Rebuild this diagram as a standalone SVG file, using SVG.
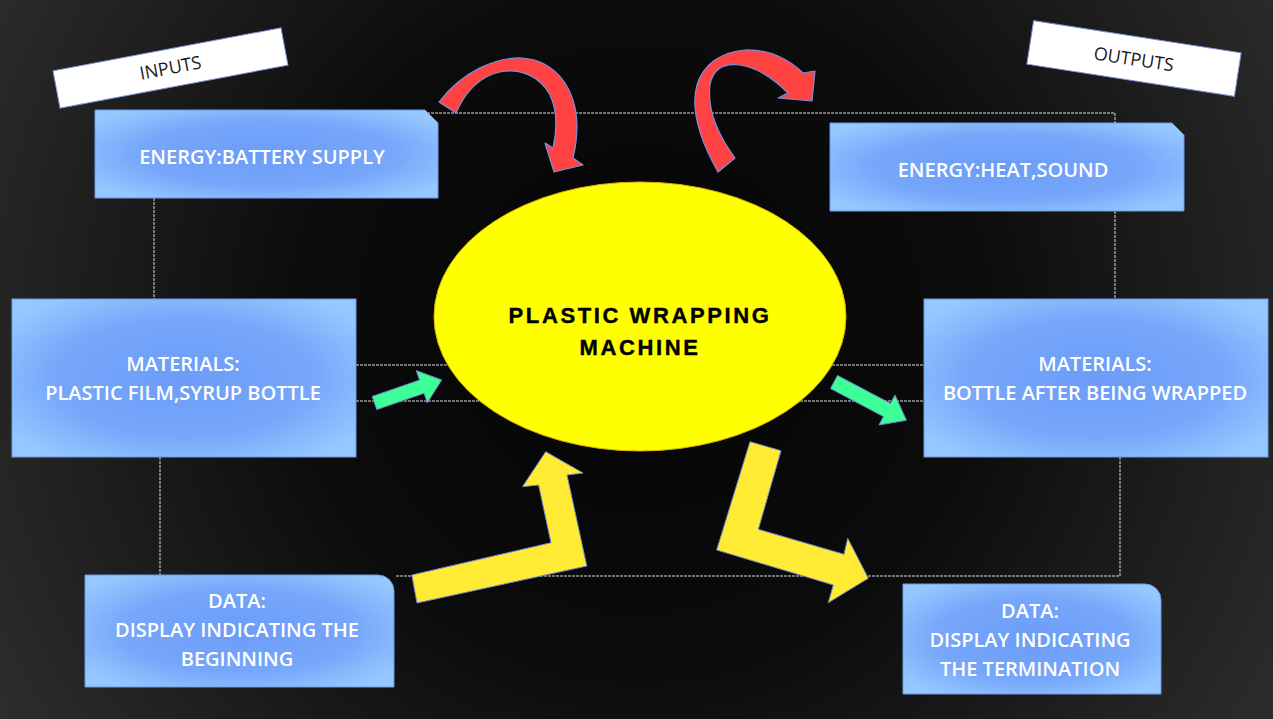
<svg xmlns="http://www.w3.org/2000/svg" width="1273" height="719" viewBox="0 0 1273 719">
<defs>
<radialGradient id="bg" cx="640" cy="330" r="760" gradientUnits="userSpaceOnUse">
<stop offset="0" stop-color="#040404"/>
<stop offset="0.45" stop-color="#0c0c0c"/>
<stop offset="1" stop-color="#2e2e2e"/>
</radialGradient>
<radialGradient id="boxg" cx="0.5" cy="0.5" r="0.62">
<stop offset="0" stop-color="#6c9cf8"/>
<stop offset="0.6" stop-color="#76a7fa"/>
<stop offset="1" stop-color="#95c8ff"/>
</radialGradient>
<style>
.box{fill:url(#boxg);stroke:#6b99e6;stroke-width:1}
.bt{font-family:"Open Sans","Liberation Sans",sans-serif;font-weight:600;font-size:20px;fill:#ffffff;text-anchor:middle}
.lab{fill:#ffffff;stroke:#7b93d8;stroke-width:1}
.lt{font-family:"Open Sans","Liberation Sans",sans-serif;font-weight:400;font-size:18px;fill:#1a1a1a;text-anchor:middle}
.dash{fill:none;stroke:#dcdcdc;stroke-width:1;stroke-dasharray:3 1}
.red{fill:#ff4242;stroke:#7a8fe0;stroke-width:1.2;stroke-linejoin:round}
.grn{fill:#3dff97;stroke:#6f80d8;stroke-width:1}
.yel{fill:#ffeb33;stroke:#7686d2;stroke-width:1}
.mt{font-family:"Liberation Sans",Arial,sans-serif;font-weight:700;font-size:22px;letter-spacing:2.6px;text-anchor:middle;fill:#000;stroke:#000;stroke-width:0.4}
</style>
</defs>
<rect width="1273" height="719" fill="url(#bg)"/>
<g id="connectors">
<path class="dash" d="M427,113 H1115 V123"/>
<path class="dash" d="M1115,211 V299"/>
<path class="dash" d="M1120,457 V576 H395"/>
<path class="dash" d="M154,198 V299"/>
<path class="dash" d="M160,457 V575"/>
<path class="dash" d="M356,365 H924"/>
<path class="dash" d="M356,401 H924"/>
</g>
<g id="label-inputs" transform="translate(170.5,68) rotate(-10.7)">
<rect class="lab" x="-116" y="-19" width="232" height="38"/>
<text class="lt" x="0" y="6">INPUTS</text>
</g>
<g id="label-outputs" transform="translate(1134,58.5) rotate(8.8)">
<rect class="lab" x="-105" y="-22" width="210" height="44"/>
<text class="lt" x="0" y="7">OUTPUTS</text>
</g>
<g id="energy-in">
<path class="box" d="M95,110 H425 L438,123 V198 H95 Z"/>
<text class="bt" x="262" y="164">ENERGY:BATTERY SUPPLY</text>
</g>
<g id="energy-out">
<path class="box" d="M830,123 H1172 L1184,135 V211 H830 Z"/>
<text class="bt" x="1003" y="177">ENERGY:HEAT,SOUND</text>
</g>
<g id="materials-in">
<rect class="box" x="12" y="299" width="344" height="158"/>
<text class="bt" x="183" y="371">MATERIALS:</text>
<text class="bt" x="183" y="400">PLASTIC FILM,SYRUP BOTTLE</text>
</g>
<g id="materials-out">
<rect class="box" x="924" y="299" width="344" height="158"/>
<text class="bt" x="1095" y="371">MATERIALS:</text>
<text class="bt" x="1095" y="400">BOTTLE AFTER BEING WRAPPED</text>
</g>
<g id="data-in">
<path class="box" d="M85,575 H378 A16,16 0 0 1 394,591 V687 H85 Z"/>
<text class="bt" x="237" y="608">DATA:</text>
<text class="bt" x="237" y="637">DISPLAY INDICATING THE</text>
<text class="bt" x="237" y="666">BEGINNING</text>
</g>
<g id="data-out">
<path class="box" d="M903,584 H1145 A16,16 0 0 1 1161,600 V694 H903 Z"/>
<text class="bt" x="1030" y="618">DATA:</text>
<text class="bt" x="1030" y="647">DISPLAY INDICATING</text>
<text class="bt" x="1030" y="676">THE TERMINATION</text>
</g>
<g id="machine">
<ellipse cx="640" cy="316.5" rx="206" ry="134.5" fill="#ffff00" stroke="#d9b400" stroke-width="1"/>
<text class="mt" x="640" y="323">PLASTIC WRAPPING</text>
<text class="mt" x="640" y="355">MACHINE</text>
</g>
<g id="flow-arrows">
<path class="red" d="M439,102 C462,72 495,57 522,58 C555,60 576,88 577,125 C577,140 575,150 573,158 L583,165 L554,172 L545,143 L553,148 C557,130 557,110 550,95 C540,76 520,68 500,72 C480,76 465,92 456,113 Z"/>
<path class="red" d="M718,172 C700,140 690,110 697,85 C703,65 720,52 745,50 C770,49 790,60 803,73 L815,71 L812,101 L778,98 L788,93 C775,80 760,68 740,65 C725,63 713,68 710,85 C707,110 718,135 735,158 Z"/>
<polygon class="grn" points="372.2,396.4 419.5,380.1 416.3,370.6 441.7,379.9 427.3,402.8 424.1,393.3 376.8,409.6"/>
<polygon class="grn" points="837.5,375.4 890.5,403.4 895,395 906.4,420.3 879,425 883.5,416.6 830.5,388.6"/>
<polygon class="yel" points="417,603 411.8,575 551,542.7 538.6,485 522.5,486.7 545.7,451.7 583,473 567,475 586.8,566"/>
<polygon class="yel" points="750,441.7 781,450.7 758.3,529.3 844,554.3 847.7,538.3 868.3,578.3 828.3,602.7 833.3,585 716.7,550"/>
</g>
</svg>
